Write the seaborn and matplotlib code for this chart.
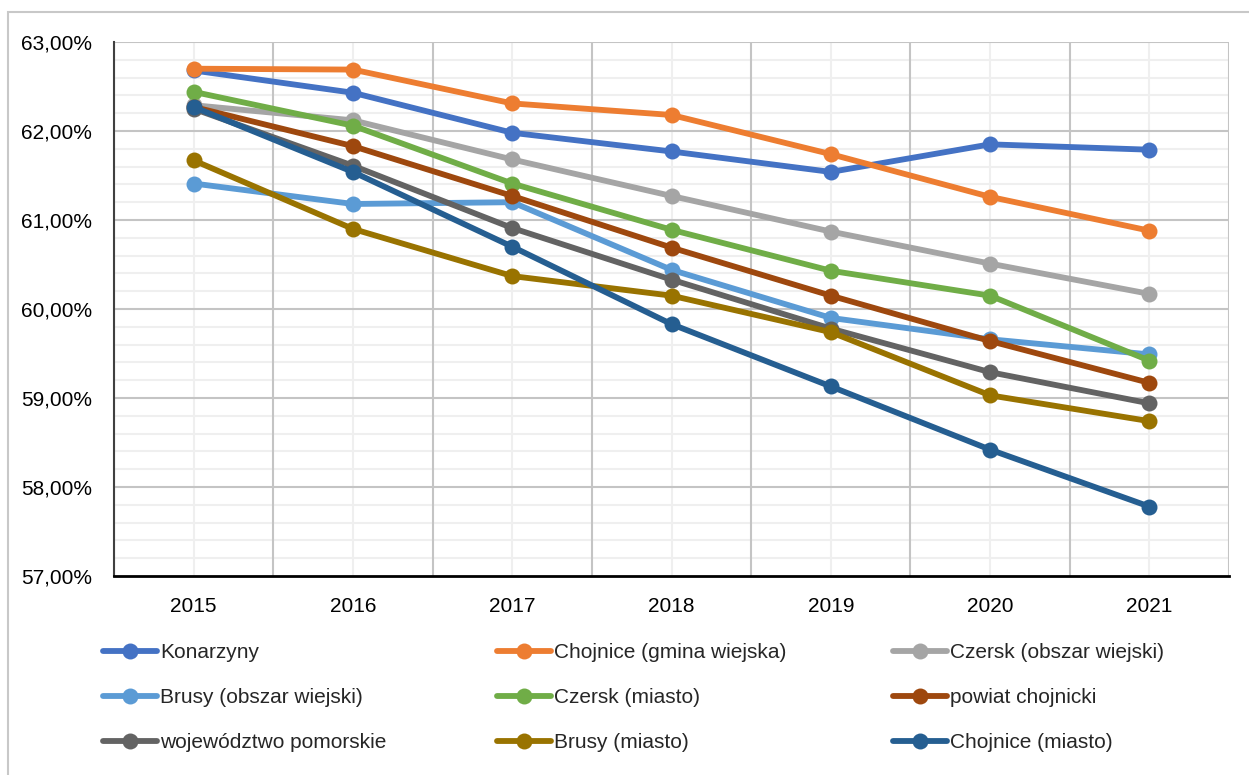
import matplotlib
matplotlib.use("Agg")
import matplotlib.pyplot as plt
from matplotlib.lines import Line2D
from matplotlib.patches import Rectangle
from matplotlib.ticker import FuncFormatter, MultipleLocator
import numpy as np
import pandas as pd
import seaborn as sns

years = ['2015', '2016', '2017', '2018', '2019', '2020', '2021']

series_names = ['Konarzyny', 'Chojnice (gmina wiejska)', 'Czersk (obszar wiejski)',
                'Brusy (obszar wiejski)', 'Czersk (miasto)', 'powiat chojnicki',
                'województwo pomorskie', 'Brusy (miasto)', 'Chojnice (miasto)']

konarzyny   = [62.68, 62.43, 61.98, 61.77, 61.54, 61.85, 61.79]
chojnice_gw = [62.70, 62.69, 62.31, 62.18, 61.74, 61.26, 60.88]
czersk_ow   = [62.29, 62.12, 61.68, 61.27, 60.87, 60.51, 60.17]
brusy_ow    = [61.41, 61.18, 61.20, 60.44, 59.90, 59.66, 59.49]
czersk_m    = [62.44, 62.06, 61.41, 60.89, 60.43, 60.15, 59.42]
powiat      = [62.27, 61.83, 61.27, 60.69, 60.15, 59.64, 59.17]
wojewodztwo = [62.25, 61.61, 60.91, 60.33, 59.78, 59.29, 58.94]
brusy_m     = [61.67, 60.90, 60.37, 60.15, 59.74, 59.03, 58.74]
chojnice_m  = [62.27, 61.54, 60.70, 59.83, 59.13, 58.42, 57.78]

colors = ['#4472C4', '#ED7D31', '#A5A5A5', '#5B9BD5', '#70AD47',
          '#9E480E', '#636363', '#997300', '#255E91']

values = [konarzyny, chojnice_gw, czersk_ow, brusy_ow, czersk_m,
          powiat, wojewodztwo, brusy_m, chojnice_m]

rows = []
for name, vals in zip(series_names, values):
    for y, v in zip(years, vals):
        rows.append({'rok': y, 'wartosc': v, 'seria': name})
df = pd.DataFrame(rows)

sns.set_style('white')
plt.rcParams['font.family'] = ['Liberation Sans', 'DejaVu Sans']

W, H = 1249, 775
fig = plt.figure(figsize=(W / 100, H / 100), dpi=100)
ax = fig.add_axes([114 / W, 1 - 576 / H, (1229 - 114) / W, (576 - 42) / H])

# outer chart frame
fig.patches.append(Rectangle((8 / W, -0.05), 1.1, 1 - 12 / H + 0.05,
                             transform=fig.transFigure, fill=False,
                             edgecolor='#c8c8c8', linewidth=1.5, zorder=0))

lw = 4.2
ms = 11.5
fs = 15
sns.lineplot(data=df, x='rok', y='wartosc', hue='seria', hue_order=series_names,
             palette=colors, marker='o', markersize=ms, markeredgewidth=0,
             linewidth=lw, sort=False, legend=False, ax=ax, zorder=3)

ax.set_xlim(-0.5, 6.5)
ax.set_ylim(57, 63)
ax.yaxis.set_major_locator(MultipleLocator(1))
ax.set_xticks(np.arange(len(years)))
ax.set_xticklabels(years)
ax.yaxis.set_major_formatter(FuncFormatter(lambda v, p: f'{v:.2f}%'.replace('.', ',')))

# gridlines
ax.grid(False)
for yv in np.arange(57.2, 63.0, 0.2):
    if abs(yv - round(yv)) > 0.01:
        ax.axhline(yv, color='#efefef', linewidth=1.5, zorder=1)
for xv in range(len(years)):
    ax.axvline(xv, color='#efefef', linewidth=1.5, zorder=1)
for yv in range(58, 64):
    ax.axhline(yv, color='#c4c4c4', linewidth=1.5, zorder=1.5)
for xv in np.arange(len(years) + 1) - 0.5:
    ax.axvline(xv, color='#c4c4c4', linewidth=1.5, zorder=1.5)

for side in ['top', 'right']:
    ax.spines[side].set_visible(False)
ax.spines['left'].set_color('#404040')
ax.spines['left'].set_linewidth(1.5)
ax.spines['bottom'].set_color('#000000')
ax.spines['bottom'].set_linewidth(2)

ax.tick_params(axis='both', which='both', length=0, labelsize=fs, colors='#000000')
ax.tick_params(axis='y', pad=16)
ax.tick_params(axis='x', pad=15)
ax.set_xlabel('')
ax.set_ylabel('')

# legend in three columns, row-major order like the original
col_x = [103, 497, 893]
for c in range(3):
    idx = [c, c + 3, c + 6]
    handles = [Line2D([0], [0], color=colors[i], linewidth=lw, marker='o',
                      markersize=ms, markeredgewidth=0) for i in idx]
    labels = [series_names[i] for i in idx]
    fig.legend(handles, labels, loc='upper left',
               bbox_to_anchor=(col_x[c] / W, 1 - 643 / H),
               frameon=False, fontsize=fs, handlelength=2.6,
               handletextpad=0.15, labelspacing=1.26, borderpad=0,
               borderaxespad=0)

fig.savefig('out.png', dpi=100)
